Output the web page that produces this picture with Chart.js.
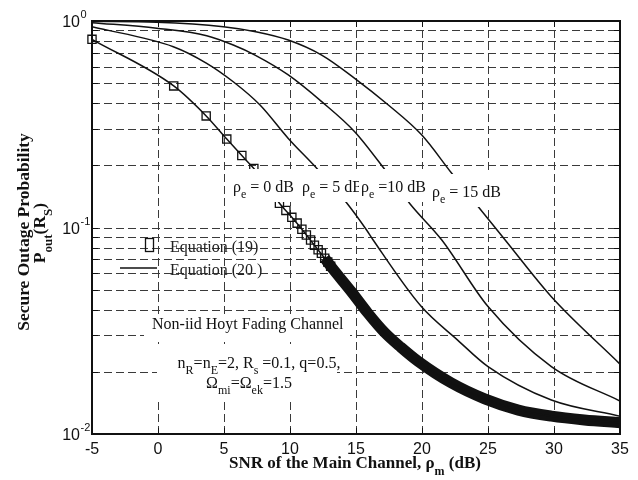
<!DOCTYPE html>
<html>
<head>
<meta charset="utf-8">
<script src="https://cdn.jsdelivr.net/npm/chart.js@4.4.0/dist/chart.umd.min.js"></script>
<style>
  body { margin: 0; background: #fff; }
  #wrap { width: 638px; height: 480px; }
</style>
</head>
<body>
<div id="wrap"><canvas id="myChart" width="638" height="480"></canvas></div>
<script>
// axis ticks
const xTicks = [-5, 0, 5, 10, 15, 20, 25, 30, 35];
const yGrid = [0.01, 0.02, 0.03, 0.04, 0.05, 0.06, 0.07, 0.08, 0.09,
               0.1, 0.2, 0.3, 0.4, 0.5, 0.6, 0.7, 0.8, 0.9, 1];
const yDecades = [1, 0.1, 0.01];
const yDecadeExp = ['0', '-1', '-2'];

// Equation (20), rho_e = 0, 5, 10, 15 dB
const snr0 = [-5, 1.19, 3.65, 5.21, 6.35, 7.26, 8.0, 8.64, 9.2, 10.14, 10.9, 11.85, 12.63, 13.08,
              14.64, 15.9, 17.17, 18.4, 19.7, 22.2, 24.75, 27.3, 29.8, 32.3, 35];
const pout0 = [0.815, 0.485, 0.347, 0.268, 0.223, 0.193, 0.168, 0.148, 0.131, 0.112, 0.098, 0.082, 0.071, 0.065,
               0.049, 0.0385, 0.031, 0.0263, 0.0225, 0.0177, 0.0148, 0.01306, 0.0122, 0.0117, 0.01135];
const snr5 = [-5, 1.16, 3.69, 5.7, 7.73, 9.87, 12.14, 14.3, 15.8, 16.3, 19.95, 22.7, 25, 29.8, 35];
const pout5 = [0.938, 0.751, 0.624, 0.508, 0.392, 0.27, 0.19, 0.1315, 0.0973, 0.087, 0.0414, 0.0285, 0.0212, 0.0146, 0.0122];
const snr10 = [-5, -0.1, 3.69, 5.7, 7.35, 9.87, 12.4, 14.9, 17.2, 19.1, 21.5, 25, 29.8, 35];
const pout10 = [0.982, 0.922, 0.849, 0.765, 0.684, 0.548, 0.407, 0.291, 0.19, 0.13, 0.087, 0.0414, 0.0212, 0.01445];
const snr15 = [-5, -0.1, 4.95, 7.5, 9.87, 12.4, 14.9, 17.45, 19.97, 22.25, 24.4, 26.3, 29.8, 35];
const pout15 = [0.995, 0.986, 0.938, 0.885, 0.809, 0.684, 0.528, 0.392, 0.281, 0.183, 0.123, 0.087, 0.0462, 0.0218];

// Equation (19) markers (rho_e = 0 dB), the ones that can still be told apart
const sqSnr = [-5, 1.19, 3.65, 5.21, 6.35, 7.26, 8.0, 8.64, 9.2, 9.69, 10.14, 10.54, 10.9, 11.24,
               11.56, 11.85, 12.13, 12.38, 12.63, 12.86, 13.08];
const sqPout = [0.815, 0.485, 0.347, 0.268, 0.223, 0.193, 0.168, 0.148, 0.131, 0.121, 0.112, 0.105, 0.098, 0.092,
                0.087, 0.082, 0.078, 0.075, 0.071, 0.068, 0.065];
// past ~12.6 dB the markers overlap into a solid band
const bandFrom = 12.6;

const serif = '"Liberation Serif", "Times New Roman", serif';
const sans = '"Liberation Sans", Arial, sans-serif';
const ink = '#111';

const xy = (xs, ys) => xs.map((x, i) => ({ x: x, y: ys[i] }));

const curve = (data) => ({
  data: data,
  borderColor: ink,
  borderWidth: 1.5,
  pointRadius: 0,
  fill: false,
  cubicInterpolationMode: 'monotone'
});

// text with sub/superscripts: runs = [[text, shift]] shift 1 = sub, -1 = sup
function drawRuns(ctx, runs, x, y, size, align, weight) {
  const w = weight || 'normal';
  const small = Math.round(size * 0.72);
  let total = 0;
  runs.forEach(r => {
    ctx.font = w + ' ' + (r[1] ? small : size) + 'px ' + serif;
    total += ctx.measureText(r[0]).width;
  });
  let cx = align === 'center' ? x - total / 2 : (align === 'right' ? x - total : x);
  ctx.textAlign = 'left';
  ctx.textBaseline = 'alphabetic';
  runs.forEach(r => {
    ctx.font = w + ' ' + (r[1] ? small : size) + 'px ' + serif;
    const dy = r[1] === 1 ? size * 0.4 : (r[1] === -1 ? -size * 0.4 : 0);
    ctx.fillText(r[0], cx, y + dy);
    cx += ctx.measureText(r[0]).width;
  });
  return total;
}

function whiteBox(ctx, x0, y0, x1, y1) {
  ctx.fillStyle = '#fff';
  ctx.fillRect(x0, y0, x1 - x0, y1 - y0);
  ctx.fillStyle = ink;
}

const figurePlugin = {
  id: 'figure',
  beforeDatasetsDraw(chart) {
    const ctx = chart.ctx;
    const a = chart.chartArea;
    const xs = chart.scales.x, ys = chart.scales.y;
    ctx.save();
    ctx.strokeStyle = '#3a3a3a';
    ctx.lineWidth = 1;
    ctx.setLineDash([8, 4]);
    xTicks.forEach(v => {
      const px = Math.round(xs.getPixelForValue(v)) + 0.5;
      ctx.beginPath(); ctx.moveTo(px, a.bottom); ctx.lineTo(px, a.top); ctx.stroke();
    });
    yGrid.forEach(v => {
      const py = Math.round(ys.getPixelForValue(v)) + 0.5;
      ctx.beginPath(); ctx.moveTo(a.left, py); ctx.lineTo(a.right, py); ctx.stroke();
    });
    ctx.restore();
  },
  afterDatasetsDraw(chart) {
    const ctx = chart.ctx;
    ctx.save();
    ctx.fillStyle = ink;
    // curve labels, each on a white box
    whiteBox(ctx, 230, 169, 296, 202);
    drawRuns(ctx, [['\u03c1', 0], ['e', 1], [' = 0 dB', 0]], 233, 192, 16, 'left');
    whiteBox(ctx, 299, 169, 372, 202);
    drawRuns(ctx, [['\u03c1', 0], ['e', 1], [' = 5 dB', 0]], 302, 192, 16, 'left');
    whiteBox(ctx, 359, 169, 429, 202);
    drawRuns(ctx, [['\u03c1', 0], ['e', 1], [' =10 dB', 0]], 361, 192, 16, 'left');
    whiteBox(ctx, 430, 174, 503, 207);
    drawRuns(ctx, [['\u03c1', 0], ['e', 1], [' = 15 dB', 0]], 432, 197, 16, 'left');

    // channel notes
    whiteBox(ctx, 144, 316, 350, 340);
    drawRuns(ctx, [['Non-iid Hoyt Fading Channel', 0]], 152, 329, 16, 'left');
    whiteBox(ctx, 157, 344, 337, 401);
    drawRuns(ctx, [['n', 0], ['R', 1], ['=n', 0], ['E', 1], ['=2, R', 0], ['s', 1], [' =0.1, q=0.5,', 0]], 259, 368, 16, 'center');
    drawRuns(ctx, [['\u03a9', 0], ['mi', 1], ['=\u03a9', 0], ['ek', 1], ['=1.5', 0]], 249, 388, 16, 'center');

    // legend (no frame)
    ctx.strokeStyle = ink;
    ctx.lineWidth = 1.3;
    ctx.strokeRect(145.5, 238.5, 8, 13);
    ctx.lineWidth = 1.5;
    ctx.beginPath(); ctx.moveTo(120, 268); ctx.lineTo(157, 268); ctx.stroke();
    ctx.fillStyle = '#222';
    drawRuns(ctx, [['Equation (19)', 0]], 170, 252, 16, 'left');
    drawRuns(ctx, [['Equation (20 )', 0]], 170, 275, 16, 'left');
    ctx.restore();
  },
  afterDraw(chart) {
    const ctx = chart.ctx;
    const a = chart.chartArea;
    const xs = chart.scales.x, ys = chart.scales.y;
    ctx.save();
    // inner tick marks
    ctx.strokeStyle = ink;
    ctx.lineWidth = 1;
    xTicks.forEach(v => {
      const px = Math.round(xs.getPixelForValue(v)) + 0.5;
      ctx.beginPath();
      ctx.moveTo(px, a.bottom); ctx.lineTo(px, a.bottom - 6);
      ctx.moveTo(px, a.top); ctx.lineTo(px, a.top + 6);
      ctx.stroke();
    });
    yGrid.forEach(v => {
      const py = Math.round(ys.getPixelForValue(v)) + 0.5;
      ctx.beginPath();
      ctx.moveTo(a.left, py); ctx.lineTo(a.left + 6, py);
      ctx.moveTo(a.right, py); ctx.lineTo(a.right - 6, py);
      ctx.stroke();
    });
    // axes box
    ctx.lineWidth = 2;
    ctx.strokeRect(a.left, a.top, a.right - a.left, a.bottom - a.top);

    // tick labels
    ctx.fillStyle = ink;
    ctx.font = '16px ' + sans;
    ctx.textAlign = 'center';
    ctx.textBaseline = 'alphabetic';
    xTicks.forEach(v => {
      ctx.fillText(String(v), xs.getPixelForValue(v), 454);
    });
    yDecades.forEach((v, i) => {
      const py = ys.getPixelForValue(v);
      ctx.font = '16px ' + sans;
      ctx.textAlign = 'right';
      ctx.fillText('10', 80, py + 6);
      ctx.font = '11px ' + sans;
      ctx.textAlign = 'left';
      ctx.fillText(yDecadeExp[i], 80.5, py - 3);
    });

    // axis titles
    drawRuns(ctx, [['SNR of the Main Channel, ', 0], ['\u03c1', 0], ['m', 1], [' (dB)', 0]], 355, 468, 17, 'center', 'bold');
    ctx.save();
    ctx.translate(29, 232);
    ctx.rotate(-Math.PI / 2);
    drawRuns(ctx, [['Secure Outage Probability', 0]], 0, 0, 17.5, 'center', 'bold');
    ctx.restore();
    ctx.save();
    ctx.translate(45, 233);
    ctx.rotate(-Math.PI / 2);
    drawRuns(ctx, [['P', 0], ['out', 1], ['(R', 0], ['S', 1], [')', 0]], 0, 0, 17.5, 'center', 'bold');
    ctx.restore();
    ctx.restore();
  }
};

const ctx = document.getElementById('myChart').getContext('2d');
new Chart(ctx, {
  type: 'line',
  data: {
    datasets: [
      curve(xy(snr0, pout0)),
      curve(xy(snr5, pout5)),
      curve(xy(snr10, pout10)),
      curve(xy(snr15, pout15)),
      {
        // dense Equation (19) markers
        data: xy(snr0, pout0).filter(p => p.x >= bandFrom),
        borderColor: ink,
        borderWidth: 11,
        borderJoinStyle: 'round',
        pointRadius: 0,
        fill: false,
        cubicInterpolationMode: 'monotone',
        clip: false
      },
      {
        data: xy(sqSnr, sqPout),
        showLine: false,
        pointStyle: 'rect',
        pointRadius: 5.8,
        pointBorderWidth: 1.3,
        pointBorderColor: ink,
        pointBackgroundColor: 'rgba(0,0,0,0)',
        clip: false
      }
    ]
  },
  options: {
    responsive: false,
    animation: false,
    layout: { padding: { left: 0, right: 18, top: 21, bottom: 0 } },
    plugins: { legend: { display: false }, tooltip: { enabled: false } },
    scales: {
      x: {
        type: 'linear', min: -5, max: 35,
        afterFit: (s) => { s.height = 46; },
        grid: { display: false },
        border: { display: false },
        ticks: { display: false }
      },
      y: {
        type: 'logarithmic', min: 0.01, max: 1,
        afterFit: (s) => { s.width = 92; },
        grid: { display: false },
        border: { display: false },
        ticks: { display: false }
      }
    }
  },
  plugins: [figurePlugin]
});
</script>
</body>
</html>
